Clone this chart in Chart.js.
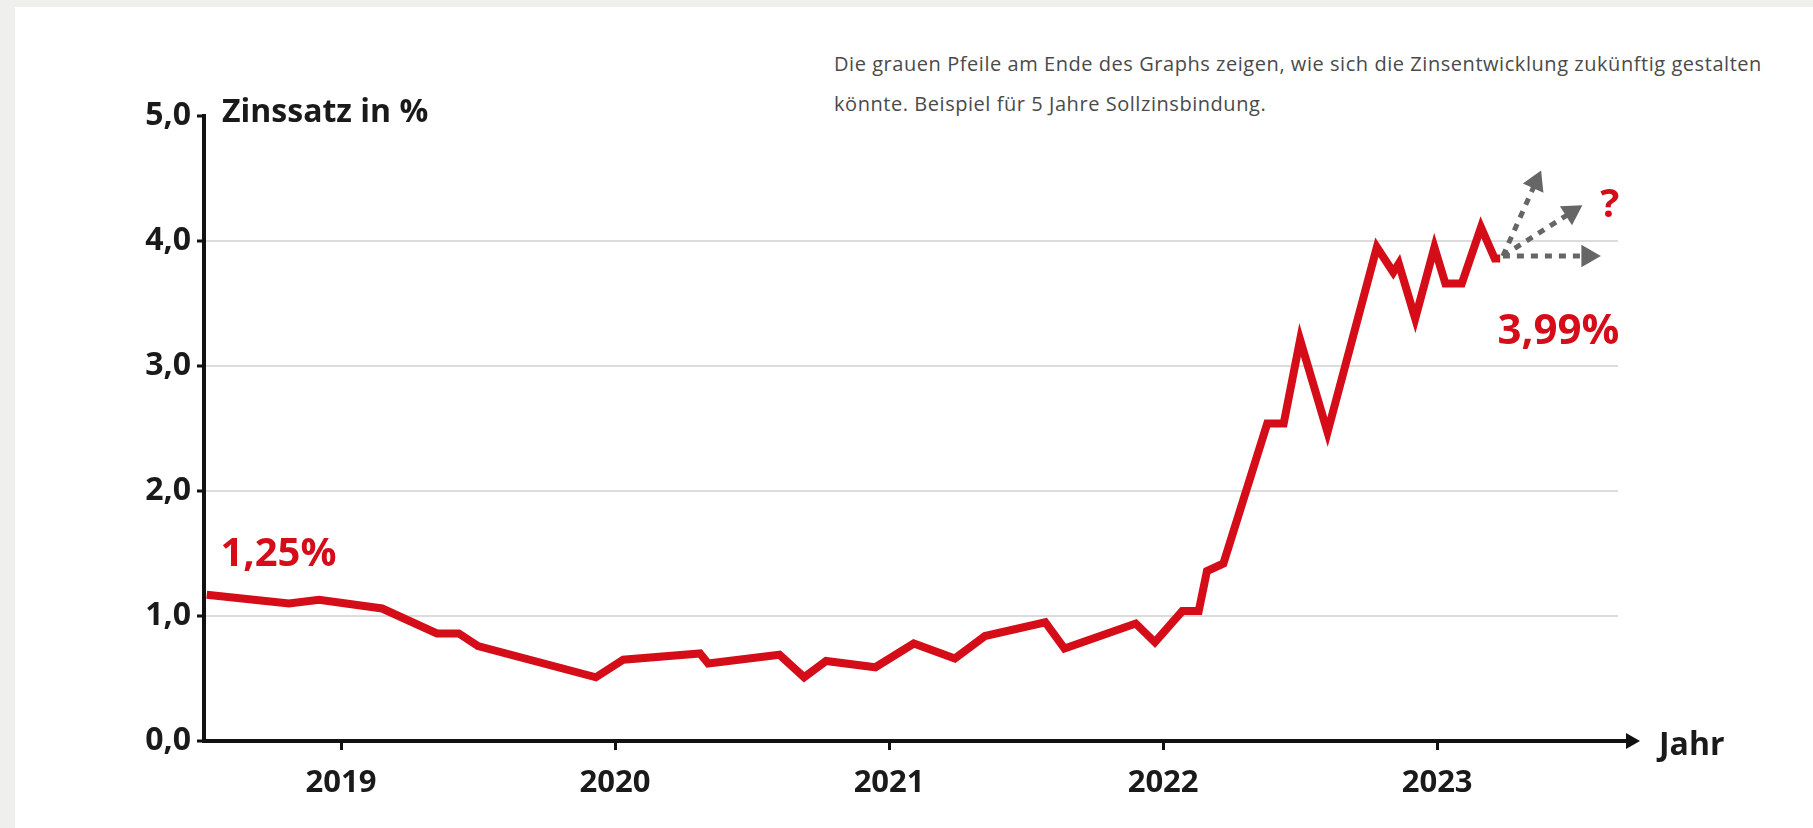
<!DOCTYPE html>
<html lang="de">
<head>
<meta charset="utf-8">
<title>Zinssatz</title>
<script src="https://cdn.jsdelivr.net/npm/chart.js@4/dist/chart.umd.min.js"></script>
<style>
    html, body { margin: 0; padding: 0; }
    body { width: 1813px; height: 828px; background: #efefed; position: relative; overflow: hidden; }
    .panel { position: absolute; left: 15px; top: 7px; right: 0; bottom: 0; background: #fff; }
    .hinweis {
        position: absolute; left: 834px; top: 44px;
        font-family: 'Open Sans', sans-serif; font-size: 20px; line-height: 40px;
        letter-spacing: 0.55px; color: #4a4a4a; white-space: nowrap;
    }
    .wrap { position: absolute; left: 0; top: 0; width: 1813px; height: 828px; }
</style>
</head>
<body>
<div class="panel"></div>
<div class="hinweis">Die grauen Pfeile am Ende des Graphs zeigen, wie sich die Zinsentwicklung zukünftig gestalten<br>könnte. Beispiel für 5 Jahre Sollzinsbindung.</div>
<div class="wrap"><canvas id="zinsChart"></canvas></div>
<script>
// Daten
const jahre = [2018.51, 2018.81, 2018.92, 2019.15, 2019.35, 2019.43, 2019.50, 2019.93, 2020.03, 2020.31,
               2020.34, 2020.60, 2020.69, 2020.77, 2020.95, 2021.09, 2021.24, 2021.35, 2021.57, 2021.64,
               2021.90, 2021.97, 2022.07, 2022.13, 2022.16, 2022.22, 2022.38, 2022.44, 2022.50, 2022.60,
               2022.78, 2022.84, 2022.86, 2022.92, 2022.99, 2023.03, 2023.09, 2023.16, 2023.21, 2023.23];
const zinssatz = [1.17, 1.10, 1.13, 1.06, 0.86, 0.86, 0.76, 0.51, 0.65, 0.70,
                  0.62, 0.69, 0.51, 0.64, 0.59, 0.78, 0.66, 0.84, 0.95, 0.74,
                  0.94, 0.79, 1.04, 1.04, 1.36, 1.42, 2.54, 2.54, 3.21, 2.47,
                  3.95, 3.75, 3.82, 3.38, 3.95, 3.66, 3.66, 4.11, 3.86, 3.86];

const jahrTicks = [2019, 2020, 2021, 2022, 2023];
const zinsTicks = [0, 1, 2, 3, 4, 5];

// graue Pfeile (Prognose)
const pfeilStart = { x: 2023.24, y: 3.88 };
const pfeilJahr = [2023.36, 2023.49, 2023.55];
const pfeilWert = [4.47, 4.23, 3.88];

const rot = '#d50d18';
const grau = '#666666';
const schrift = "'Open Sans', sans-serif";

const pfeilDatasets = pfeilJahr.map((j, i) => ({
    data: [pfeilStart, { x: j, y: pfeilWert[i] }],
    borderColor: grau,
    backgroundColor: grau,
    borderWidth: 5,
    borderDash: [7, 7],
    pointStyle: 'triangle',
    pointRadius: [0, 13],
    pointBorderWidth: 0,
    pointRotation: (ctx) => {
        const sx = ctx.chart.scales.x, sy = ctx.chart.scales.y;
        const dx = sx.getPixelForValue(j) - sx.getPixelForValue(pfeilStart.x);
        const dy = sy.getPixelForValue(pfeilWert[i]) - sy.getPixelForValue(pfeilStart.y);
        return Math.atan2(dx, -dy) * 180 / Math.PI;
    },
    clip: false
}));

// Texte und Pfeil der x-Achse
const beschriftung = {
    id: 'beschriftung',
    afterDraw(chart) {
        const { ctx, chartArea, scales: { x, y } } = chart;
        ctx.save();

        // Pfeil an der x-Achse
        const y0 = y.getPixelForValue(0);
        const spitze = chartArea.right + 22;
        ctx.strokeStyle = '#111';
        ctx.lineWidth = 4;
        ctx.beginPath();
        ctx.moveTo(chartArea.right, y0);
        ctx.lineTo(spitze - 6, y0);
        ctx.stroke();
        ctx.fillStyle = '#111';
        ctx.beginPath();
        ctx.moveTo(spitze, y0);
        ctx.lineTo(spitze - 14, y0 - 8);
        ctx.lineTo(spitze - 14, y0 + 8);
        ctx.closePath();
        ctx.fill();

        // Achsentitel
        ctx.font = `bold 32px ${schrift}`;
        ctx.textBaseline = 'alphabetic';
        ctx.textAlign = 'left';
        ctx.fillStyle = '#1a1a1a';
        ctx.fillText('Jahr', spitze + 19, y0 + 14);
        ctx.fillText('Zinssatz in %', chartArea.left + 18, y.getPixelForValue(5) + 6);

        // rote Werte
        ctx.fillStyle = rot;
        ctx.font = `bold 40px ${schrift}`;
        ctx.fillText('1,25%', x.getPixelForValue(2018.56), y.getPixelForValue(1.40));
        ctx.font = `bold 42px ${schrift}`;
        ctx.fillText('3,99%', x.getPixelForValue(2023.22), y.getPixelForValue(3.18));
        ctx.font = `bold 40px ${schrift}`;
        ctx.textAlign = 'center';
        ctx.fillText('?', x.getPixelForValue(2023.63), y.getPixelForValue(4.19));

        ctx.restore();
    }
};

new Chart(document.getElementById('zinsChart').getContext('2d'), {
    type: 'line',
    data: {
        datasets: [
            {
                data: jahre.map((j, i) => ({ x: j, y: zinssatz[i] })),
                borderColor: rot,
                borderWidth: 8,
                borderJoinStyle: 'miter',
                pointRadius: 0,
                tension: 0,
                clip: false
            },
            ...pfeilDatasets
        ]
    },
    options: {
        responsive: true,
        maintainAspectRatio: false,
        animation: false,
        events: [],
        layout: { padding: { top: 116, right: 195, left: 0, bottom: 0 } },
        plugins: {
            legend: { display: false },
            tooltip: { enabled: false }
        },
        scales: {
            x: {
                type: 'linear',
                min: 2018.50,
                max: 2023.66,
                afterBuildTicks: (s) => { s.ticks = jahrTicks.map(v => ({ value: v })); },
                afterFit: (s) => { s.height = 87; },
                border: { color: '#111', width: 4 },
                grid: { drawOnChartArea: false, drawTicks: true, tickLength: 9, tickColor: '#111', tickWidth: 3 },
                ticks: {
                    autoSkip: false,
                    maxRotation: 0,
                    padding: 15,
                    color: '#1a1a1a',
                    font: { family: schrift, size: 31, weight: 'bold' },
                    callback: (v) => String(v)
                }
            },
            y: {
                min: 0,
                max: 5,
                afterBuildTicks: (s) => { s.ticks = zinsTicks.map(v => ({ value: v })); },
                afterFit: (s) => { s.width = 204; },
                border: { color: '#111', width: 4 },
                grid: {
                    color: (c) => (c.tick && (c.tick.value === 0 || c.tick.value === 5)) ? 'rgba(0,0,0,0)' : '#dcdcdc',
                    lineWidth: 2,
                    drawTicks: true,
                    tickLength: 7,
                    tickColor: '#111',
                    tickWidth: 3
                },
                ticks: {
                    padding: 6,
                    color: '#1a1a1a',
                    font: { family: schrift, size: 32, weight: 'bold' },
                    callback: (v) => v.toFixed(1).replace('.', ',')
                }
            }
        }
    },
    plugins: [beschriftung]
});
</script>
</body>
</html>
